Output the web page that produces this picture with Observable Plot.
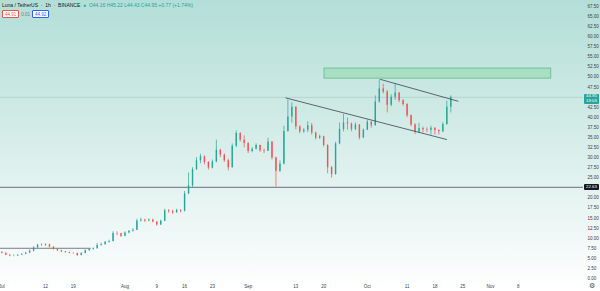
<!DOCTYPE html>
<html><head><meta charset="utf-8">
<script src="https://cdn.jsdelivr.net/npm/d3@7"></script>
<script src="https://cdn.jsdelivr.net/npm/@observablehq/plot@0.6"></script>
<style>
html,body{margin:0;padding:0;background:#fff;}
#wrap{position:relative;width:600px;height:291px;overflow:hidden;font-family:"Liberation Sans",Arial,sans-serif;}
.abs{position:absolute;white-space:nowrap;}
</style></head><body><div id="wrap"></div>
<script>
// ---- data: daily OHLC of LUNA/USDT (day 0 = 2021-07-01)
const firstDay = "2021-07-01";
const open = [6.5,6.3,5.8,5.6,5.6,5.8,6.0,6.3,6.8,7.6,
8.3,8.2,8.4,7.8,7.2,6.9,6.6,6.4,6.2,6.2,
5.7,6.2,6.9,7.2,7.4,8.2,8.4,9.0,9.2,11.2,
11.1,10.5,11.3,11.7,12.0,14.3,14.5,14.3,14.5,14.0,
13.3,14.2,16.8,16.6,16.3,16.9,16.7,21.0,23.0,27.0,
29.2,30.2,28.8,27.4,28.9,31.8,30.6,29.2,27.5,32.8,
36.0,34.3,33.5,31.5,32.1,33.0,31.7,31.6,33.9,29.9,
26.6,28.4,36.5,40.1,42.5,37.6,36.4,36.8,37.9,36.1,
34.8,35.2,33.0,27.5,25.8,33.4,37.0,38.6,38.3,37.0,
38.1,34.9,36.8,38.8,37.9,43.8,47.0,46.3,43.0,45.0,
46.0,44.1,43.2,40.4,38.1,36.3,37.2,36.9,36.8,37.3,
36.7,36.4,38.2,42.5];
const high = [6.6,6.3,5.9,5.8,5.9,6.1,6.5,7.1,7.9,8.5,
8.6,8.6,8.5,7.9,7.3,7.0,6.7,6.5,6.4,6.3,
6.4,7.1,7.4,7.6,8.7,8.8,9.2,9.5,11.6,11.6,
11.2,11.6,11.9,12.4,14.7,15.0,14.7,14.8,14.7,14.1,
14.5,17.2,17.1,16.9,17.2,17.1,21.6,26.2,27.5,30.0,
30.8,30.4,29.0,29.4,34.3,32.1,30.9,29.6,33.4,36.6,
36.2,35.4,33.7,32.5,33.4,33.1,32.1,34.8,34.0,30.1,
29.2,37.8,44.3,43.6,42.6,37.9,37.2,38.9,38.5,36.3,
35.6,35.3,33.2,27.8,33.8,38.6,40.7,39.8,38.6,38.6,
38.2,37.1,39.3,39.0,45.3,49.3,48.2,46.6,45.6,48.4,
46.1,44.4,43.4,40.6,38.4,38.5,37.6,37.4,37.8,37.4,
36.9,38.7,44.0,45.3];
const low = [6.1,5.7,5.4,5.4,5.5,5.7,5.9,6.2,6.6,7.5,
8.0,8.0,7.6,7.0,6.7,6.4,6.3,6.1,6.0,5.5,
5.6,6.1,6.8,7.0,7.3,8.0,8.3,8.8,9.1,10.6,
10.2,10.4,11.1,11.5,11.9,14.0,13.9,14.1,13.8,13.0,
13.2,14.1,16.2,15.9,16.2,16.3,16.5,20.8,22.5,26.8,
28.5,28.2,26.9,27.2,28.7,30.0,28.8,26.7,27.4,32.5,
33.8,32.4,31.0,31.2,31.9,31.3,31.0,31.5,29.4,22.7,
26.3,28.2,36.3,38.5,36.9,35.9,36.0,36.2,35.6,34.4,
34.5,32.6,26.0,24.9,25.6,33.2,36.4,36.8,36.4,36.7,
34.4,34.7,36.7,37.3,37.8,43.5,45.8,41.1,42.6,44.2,
43.6,42.7,39.9,37.7,35.7,36.0,36.1,36.2,35.6,35.6,
35.6,36.2,38.0,41.1];
const close = [6.3,5.8,5.6,5.6,5.8,6.0,6.3,6.8,7.6,8.3,
8.2,8.4,7.8,7.2,6.9,6.6,6.4,6.2,6.2,5.7,
6.2,6.9,7.2,7.4,8.2,8.4,9.0,9.2,11.2,11.1,
10.5,11.3,11.7,12.0,14.3,14.5,14.3,14.5,14.0,13.3,
14.2,16.8,16.6,16.3,16.9,16.7,21.0,23.0,27.0,29.2,
30.2,28.8,27.4,28.9,31.8,30.6,29.2,27.5,32.8,36.0,
34.3,33.5,31.5,32.1,33.0,31.7,31.6,33.9,29.9,26.6,
28.4,36.5,40.1,42.5,37.6,36.4,36.8,37.9,36.1,34.8,
35.2,33.0,27.5,25.8,33.4,37.0,38.6,38.3,37.0,38.1,
34.9,36.8,38.8,37.9,43.8,47.0,46.3,43.0,45.0,46.0,
44.1,43.2,40.4,38.1,36.3,37.2,36.9,36.8,37.3,36.7,
36.4,38.2,42.5,44.95];

// drawings
const lowerTrendDates = ["2021-09-10T12:00Z", "2021-10-20T22:00Z"];
const lowerTrendPrices = [44.8, 34.5];
const upperTrendDates = ["2021-10-04T07:00Z", "2021-10-23T19:00Z"];
const upperTrendPrices = [49.4, 44.0];
const zoneDates = ["2021-09-20T05:00Z", "2021-11-16T07:00Z"];
const zonePrices = [49.6, 52.1];
const oldSupportDates = ["2021-06-30T00:00Z", "2021-07-23T07:00Z"];
const oldSupportPrice = 7.5;
const supportPrice = 22.63;
const lastPrice = 44.95;

// axis ticks
const xTickDates = ["2021-07-01","2021-07-12","2021-07-19","2021-08-01","2021-08-09","2021-08-16","2021-08-23","2021-09-01","2021-09-13","2021-09-20","2021-10-01","2021-10-11","2021-10-18","2021-10-25","2021-11-01","2021-11-08"];
const xTickLabels = ["Jul","12","19","Aug","9","16","23","Sep","13","20","Oct","11","18","25","Nov","8"];
const yTickValues = [0,2.5,5,7.5,10,12.5,15,17.5,20,25,27.5,30,32.5,35,37.5,40,42.5,47.5,50,52.5,55,57.5,60,62.5,65,67.5];

// ---- build
const t0 = new Date(firstDay + "T00:00Z");
const DAY = 864e5;
const candles = close.map((c, i) => ({date: new Date(+t0 + i * DAY), open: open[i], high: high[i], low: low[i], close: c}));
const lowerTrend = lowerTrendDates.map((d, i) => ({date: new Date(d), price: lowerTrendPrices[i]}));
const upperTrend = upperTrendDates.map((d, i) => ({date: new Date(d), price: upperTrendPrices[i]}));
const oldSupport = oldSupportDates.map(d => ({date: new Date(d), price: oldSupportPrice}));
const zone = [{x1: new Date(zoneDates[0]), x2: new Date(zoneDates[1]), y1: zonePrices[0], y2: zonePrices[1]}];
const xTicks = xTickDates.map(d => new Date(d + "T00:00Z"));
const UP = "#26a69a", DOWN = "#ef5350";
const col = d => d.close >= d.open ? UP : DOWN;

const chart = Plot.plot({
  width: 600, height: 291,
  marginLeft: 0, marginRight: 17, marginTop: 0, marginBottom: 10,
  style: {background: "linear-gradient(#b3ded7 0%, #d4ece8 45%, #ffffff 100%)", color: "#3c404b", fontFamily: "Liberation Sans, Arial, sans-serif", overflow: "hidden"},
  x: {type: "utc", domain: [new Date(+t0 - 0.33 * DAY), new Date(+t0 + 146.4 * DAY)], label: null, axis: null},
  y: {domain: [-0.74, 68.98], label: null, axis: null},
  marks: [
    Plot.rect(zone, {x1: "x1", x2: "x2", y1: "y1", y2: "y2", fill: "#7fd49c", fillOpacity: 0.4, stroke: "#5cbf84", strokeWidth: 0.8}),
    Plot.ruleY([supportPrice], {stroke: "#6b6f7a", strokeWidth: 1}),
    Plot.ruleY([lastPrice], {stroke: "#7aa8a4", strokeWidth: 0.5, strokeOpacity: 0.6}),
    Plot.line(oldSupport, {x: "date", y: "price", stroke: "#6b6f7a", strokeWidth: 0.9, clip: true}),
    Plot.ruleX(candles, {x: "date", y1: "low", y2: "high", stroke: col, strokeWidth: 0.7}),
    Plot.ruleX(candles, {x: "date", y1: "open", y2: "close", stroke: col, strokeWidth: 1.4}),
    Plot.line(lowerTrend, {x: "date", y: "price", stroke: "#3d4250", strokeWidth: 0.8}),
    Plot.line(upperTrend, {x: "date", y: "price", stroke: "#3d4250", strokeWidth: 0.8}),
    Plot.axisX({ticks: xTicks, tickFormat: d => xTickLabels[xTicks.findIndex(t => +t === +d)], tickSize: 0, tickPadding: 3, fontSize: 4.5, label: null}),
    Plot.axisY({anchor: "right", ticks: yTickValues, tickFormat: d => d.toFixed(2), tickSize: 0, tickPadding: 4, fontSize: 4.5, label: null})
  ]
});
const wrap = document.getElementById("wrap");
wrap.appendChild(chart);

// ---- overlays (header + price labels positioned with the plot's scales)
const ys = chart.scale("y");
function box(price, bg, lines, h, off) {
  const y = ys.apply(price);
  const el = document.createElement("div");
  el.className = "abs";
  el.style.cssText = `left:584px;top:${y - off}px;width:15px;height:${h}px;background:${bg};color:#fff;font-size:4.3px;line-height:4.6px;text-align:center;border-radius:1px;padding-top:0.6px;box-sizing:border-box;`;
  el.innerHTML = lines.join("<br>");
  wrap.appendChild(el);
}
box(lastPrice, "#26a69a", [lastPrice.toFixed(2), "19:03"], 10, 3);
box(supportPrice, "#131722", [supportPrice.toFixed(2)], 5.6, 2.8);

const hdr = document.createElement("div");
hdr.className = "abs";
hdr.style.cssText = "left:2px;top:3px;font-size:5px;line-height:5px;color:#131722;";
hdr.innerHTML = 'Luna / TetherUS &nbsp;·&nbsp; 1h &nbsp;·&nbsp; BINANCE &nbsp;<span style="color:#26a69a">●</span> &nbsp;<span style="color:#26a69a">O44.16 H45.22 L44.43 C44.95 +0.77 (+1.74%)</span>';
wrap.appendChild(hdr);

const row2 = document.createElement("div");
row2.className = "abs";
row2.style.cssText = "left:2px;top:10px;font-size:4.5px;line-height:5px;display:flex;align-items:center;gap:2px;";
row2.innerHTML = '<span style="border:0.6px solid #ef5350;color:#ef5350;background:#fff;padding:0.5px 2px;border-radius:1px">44.91</span><span style="color:#787b86">0.01</span><span style="border:0.6px solid #2962ff;color:#2962ff;background:#fff;padding:0.5px 2px;border-radius:1px">44.92</span>';
wrap.appendChild(row2);

const gear = document.createElement("div");
gear.className = "abs";
gear.style.cssText = "left:589px;top:283px;font-size:7px;line-height:7px;color:#50535e;font-family:'DejaVu Sans';";
gear.textContent = "⚙";
wrap.appendChild(gear);
</script></body></html>
